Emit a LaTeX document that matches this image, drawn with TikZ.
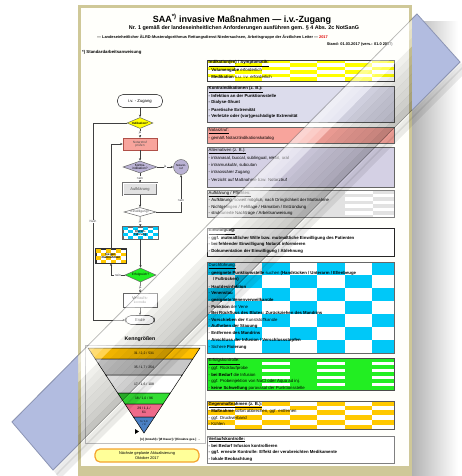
\documentclass[tikz,border=0pt]{standalone}
\usepackage{fontspec}
\setmainfont{Liberation Sans}
\usetikzlibrary{shapes.geometric,arrows.meta,calc}

\definecolor{pagekhaki}{HTML}{CFC898}
\definecolor{pagecream}{HTML}{FFFFFB}
\definecolor{bandblue}{HTML}{B2BCE0}
\definecolor{bandedge}{HTML}{8C95B5}
\definecolor{chkyellow}{HTML}{FFFF00}
\definecolor{chkcyan}{HTML}{00C8F8}
\definecolor{chkorange}{HTML}{FFC800}
\definecolor{okgreen}{HTML}{22EE22}
\definecolor{salmon}{HTML}{F8A49C}
\definecolor{salmonedge}{HTML}{B05048}
\definecolor{lilac}{HTML}{D4D0E4}
\definecolor{lilacdark}{HTML}{BAB2D4}
\definecolor{greyblue}{HTML}{DCDCEC}
\definecolor{lightgrey}{HTML}{E2E2E2}
\definecolor{tri1}{HTML}{FFC000}
\definecolor{tri2}{HTML}{C8C8C8}
\definecolor{tri4}{HTML}{33DD33}
\definecolor{tri5}{HTML}{EE6A8A}
\definecolor{tri6}{HTML}{4A80C4}
\definecolor{noteyellow}{HTML}{FFFF99}
\definecolor{noteorange}{HTML}{F4A42C}
\definecolor{yearred}{HTML}{E00000}

\newcommand\bodyfont{\fontsize{4.3}{5}\selectfont}
\newcommand\flowfont{\fontsize{3.2}{3.6}\selectfont}

% checkerboard of coloured cells clipped to a rectangle
\newcommand\checker[7]{%
  \begin{scope}
    \clip (#1,#2) rectangle (#3,#4);
    \foreach \ci in {0,...,7}{
      \foreach \cj in {0,...,12}{
        \pgfmathtruncatemacro\cpar{mod(\ci+\cj,2)}
        \ifnum\cpar=0 \fill[#7] ({#1+\ci*#5},{#2+\cj*#6}) rectangle +(#5,#6);\fi
      }}
  \end{scope}}

% framed information panel of the right-hand column
\newcommand\panel[7]{%
  \node[draw=#7, fill=#6, line width=0.7pt, inner sep=0pt, anchor=north west,
        minimum width={#4-#2}, minimum height={#5-#3}] (#1) at (#2,#3) {};}
\newcommand\reframe[2]{\draw[#2, line width=0.7pt] (#1.north west) rectangle (#1.south east);}

% one text line inside a panel
\newcounter{tl}
\newcommand\tline[2]{\stepcounter{tl}%
  \node[anchor=west, inner sep=0pt, font=\bodyfont] (tl-\arabic{tl}) at (208.5,#1) {#2};}

\tikzset{
  flowbox/.style={rectangle, draw=black!60, line width=0.5pt, inner sep=0pt,
                  minimum width=34, minimum height=12, align=center, font=\flowfont},
  flowdia/.style={diamond, draw=black!60, line width=0.5pt, inner sep=0pt},
  flowend/.style={rectangle, rounded corners=5.5pt, draw=black!70, line width=0.6pt,
                  fill=white, inner sep=0pt, font=\fontsize{4.2}{5}\selectfont},
  flowarrow/.style={-{Stealth[length=2.6pt,width=2.2pt]}, line width=0.5pt, black!75},
  flowlbl/.style={font=\flowfont, inner sep=0.4pt, fill=white},
  dtext/.style={font=\flowfont, align=center, inner sep=0pt},
  layer/.style={draw=black, line width=0.5pt},
  ltext/.style={font=\fontsize{3.4}{4}\selectfont, align=center, inner sep=0pt},
}

\begin{document}
\begin{tikzpicture}[x=1pt,y=-1pt]
\useasboundingbox (0,0) rectangle (461,476);
\fill[white] (0,0) rectangle (461,476);

% corners of the diagonal ribbon
\coordinate (rA) at (12,422);
\coordinate (rB) at (417,14);
\coordinate (rC) at (460,62);
\coordinate (rD) at (53,470);

% ---------- sheet with its shadow ----------
\shade[left color=black!30, right color=white] (412,22) rectangle (458,476);
\fill[pagekhaki] (78,5) rectangle (412,476);
\fill[pagecream] (81,8) rectangle (409,466);

% ---------- heading ----------
\node[font=\bfseries\fontsize{9}{10}\selectfont, inner sep=0pt] (title) at (242,19)
  {SAA\textsuperscript{*)} invasive Maßnahmen — i.v.-Zugang};
\node[font=\bfseries\fontsize{5.4}{6}\selectfont, inner sep=0pt] (sub1) at (244,28)
  {Nr. 1 gemäß der landeseinheitlichen Anforderungen ausführen gem. § 4 Abs. 2c NotSanG};
\node[font=\bfseries\fontsize{3.9}{4.5}\selectfont, inner sep=0pt, anchor=west] (sub2) at (97,37.5)
  {— Landeseinheitlicher ÄLRD-Musteralgorithmus Rettungsdienst Niedersachsen, Arbeitsgruppe der Ärztlichen Leiter — \textcolor{yearred}{2017}};
\node[font=\bfseries\fontsize{3.9}{4.5}\selectfont, inner sep=0pt, anchor=east] (stand) at (393,44)
  {Stand: 01.03.2017 (vers.: 01.0 2017)};
\node[font=\bfseries\fontsize{4.3}{5}\selectfont, inner sep=0pt, anchor=west] (sop) at (82,52)
  {*) Standardarbeitsanweisung};

% ---------- flow chart ----------
\node[flowend, minimum width=45, minimum height=13] (start) at (140,101) {i.v. - Zugang};
\node[flowdia, fill=chkyellow, minimum width=26, minimum height=11] (ind) at (140,123) {};
\node[dtext, font=\bfseries\fontsize{3}{3.5}\selectfont] (indT) at (ind) {Indikation?};
\node[flowbox, fill=salmon, draw=salmonedge, text=black!70] (nar) at (140,144) {Notarztruf\\prüfen};
\node[flowdia, fill=lilacdark, minimum width=34, minimum height=12] (ki) at (140,167) {};
\node[dtext] (kiT) at (ki) {Kontra-\\indikation?};
\node[circle, fill=lilacdark, draw=black!55, line width=0.5pt, minimum size=15, inner sep=0pt,
      align=center, font=\fontsize{2.8}{3.2}\selectfont] (nac) at (181,167) {Notarzt-\\ruf};
\node[flowbox, fill=lightgrey, double=white, double distance=0.6pt, draw=black!55, text=black!70] (auf) at (140,189)
  {\fontsize{4}{5}\selectfont Aufklärung};
\node[flowdia, fill=white, minimum width=32, minimum height=9] (ein) at (140,212) {};
\node[dtext, text=black!70] (einT) at (ein) {Einwilligung?};
\node[flowbox, fill=white, minimum width=35] (dur) at (140.5,233) {};
\checker{123}{227}{158}{239}{5}{3}{chkcyan}
\reframe{dur}{black!60}
\node[dtext, font=\bfseries\flowfont] (durT) at (dur) {Durch-\\führung};
\node[flowbox, fill=white, minimum width=30, minimum height=14, draw=black!80] (gm) at (111,256) {};
\checker{96}{249}{126}{263}{5}{3.5}{chkorange}
\reframe{gm}{black!80}
\node[dtext, font=\bfseries\flowfont] (gmT) at (gm) {Gegen-\\maßnahmen};
\node[flowdia, fill=okgreen, minimum width=31, minimum height=14] (erf) at (140.5,275) {};
\node[dtext] (erfT) at (erf) {Erfolgreich?};
\node[flowbox, fill=white, minimum height=14, text=black!65] (vk) at (140,300) {\fontsize{4}{4.8}\selectfont Verlaufs-\\kontrolle};
\node[flowend, minimum width=29, minimum height=9, text=black!65] (ende) at (140,320) {Ende};

\coordinate (loopTop) at (93,123);
\coordinate (loopBot) at (93,320);
\coordinate (kiRight) at (181,212);
\coordinate (gmFoot) at (111,275);
\coordinate (gmHead) at (111,144);

\draw[flowarrow] (start) -- (ind);
\draw[flowarrow] (ind) -- node[flowlbl, pos=0.45] {ja} (nar);
\draw[flowarrow] (ind.west) -- (loopTop) -- node[flowlbl] {Nein} (loopBot) -- (ende.west);
\draw[flowarrow] (nar) -- (ki);
\draw[flowarrow] (ki.east) -- node[flowlbl] {ja} (nac.west);
\draw[flowarrow] (ki) -- node[flowlbl] {nein} (auf);
\draw[flowarrow] (auf) -- (ein);
\draw[flowarrow] (ein.east) -- (kiRight) -- node[flowlbl, pos=0.3] {nein} (nac.south);
\draw[flowarrow] (ein) -- node[flowlbl] {ja} (dur);
\draw[flowarrow] (dur) -- (erf);
\draw[flowarrow] (erf.west) -- node[flowlbl, pos=0.5] {nein} (gmFoot) -- (gm.south);
\draw[flowarrow] (gm.north) -- (gmHead) -- (nar.west);
\draw[flowarrow] (erf) -- node[flowlbl] {ja} (vk);
\draw[flowarrow] (vk) -- (ende);

% ---------- key figures pyramid ----------
\node[font=\bfseries\fontsize{5.2}{6}\selectfont, inner sep=0pt] (kenn) at (140,339) {Kenngrößen};
\draw[black!25, line width=0.5pt] (85,345) rectangle (205,443);
\filldraw[layer, fill=tri1] (88,348) -- (200,348) -- (192.75,359) -- (95.25,359) -- cycle;
\filldraw[layer, fill=tri2] (95.25,359) -- (192.75,359) -- (182.2,375) -- (105.8,375) -- cycle;
\filldraw[layer, fill=white] (105.8,375) -- (182.2,375) -- (170.35,393) -- (117.65,393) -- cycle;
\filldraw[layer, fill=tri4] (117.65,393) -- (170.35,393) -- (163.1,404) -- (124.9,404) -- cycle;
\filldraw[layer, fill=tri5] (124.9,404) -- (163.1,404) -- (154.54,417) -- (133.46,417) -- cycle;
\filldraw[layer, fill=tri6] (133.46,417) -- (154.54,417) -- (144,433) -- cycle;
\node[ltext] (k1) at (144,353.5) {31 / 2,2 / 531};
\node[ltext] (k2) at (144,367) {35 / 1,7 / 254};
\node[ltext] (k3) at (144,384) {17 / 1,6 / 108};
\node[ltext] (k4) at (144,398.5) {18 / 1,0 / 96};
\node[ltext] (k5) at (144,410.5) {29 / 1,1 /\\61};
\node[ltext, font=\fontsize{2.6}{3}\selectfont] (k6) at (144,423) {5 / 1,0\\/ 3};
\fill[black] (135,429) -- (139,431.5) -- (135,434) -- cycle;
\node[font=\bfseries\fontsize{3}{3.5}\selectfont, inner sep=0pt, anchor=west] (kleg) at (140,439.5)
  {[n] (Anzahl) / [Ø Dauer] / [Einsätze ges.] →};

\node[rectangle, rounded corners=5pt, fill=noteyellow, draw=noteorange, line width=1.2pt,
      minimum width=104, minimum height=13, inner sep=0pt, align=center,
      font=\fontsize{3.9}{4.6}\selectfont] (next) at (147,455.5)
  {Nächste geplante Aktualisierung\\Oktober 2017};

% ---------- right-hand column ----------
\panel{pA}{207}{60}{394}{81}{white}{black!75}
\checker{207}{60}{394}{81}{27.5}{3.5}{chkyellow}
\reframe{pA}{black!75}
\tline{63.5}{\textbf{\underline{Indikation(en) / Symptomatik:}}}
\tline{70.5}{- \textbf{Volumengabe} erforderlich}
\tline{77}{- \textbf{Medikation} s.u. i.v. erforderlich}

\panel{pB}{207}{86}{394}{122}{greyblue}{black!65}
\tline{89.5}{\textbf{\underline{Kontraindikationen (z. B.):}}}
\tline{96}{\textbf{- Infektion an der Punktionsstelle}}
\tline{102.5}{\textbf{- Dialyse-Shunt}}
\tline{109.5}{\textbf{- Paretische Extremität}}
\tline{116.5}{\textbf{- Verletzte oder (vor)geschädigte Extremität}}

\panel{pC}{207}{127}{394}{143}{salmon}{black!60}
\tline{131}{\underline{Notarztruf:}}
\tline{138}{- gemäß Notarztindikationskatalog}

\panel{pD}{207}{147}{394}{187}{lilac}{black!60}
\tline{151}{\underline{Alternativen (z. B.):}}
\tline{158}{- intranasal, buccal, sublingual, rektal, oral}
\tline{165.5}{- intramuskulär, subcutan}
\tline{172.5}{- intraossärer Zugang}
\tline{179.5}{- Verzicht auf Maßnahme bzw. Notarztruf}

\panel{pE}{207}{190}{394}{217}{lightgrey}{black!50}
\checker{345}{190}{394}{217}{27.5}{3.5}{white}
\reframe{pE}{black!50}
\tline{194}{\underline{Aufklärung / Pflichten:}}
\tline{200.5}{- Aufklärung, soweit möglich, nach Dringlichkeit der Maßnahme}
\tline{207}{- Nichtgelingen / Fehllage / Hämatom / Entzündung}
\tline{213.5}{- strukturierte Nachfrage / Arbeitsanweisung}

\panel{pF}{207}{228}{394}{256}{white}{black!85}
\tline{231.5}{\textbf{\underline{Einwilligung:}}}
\tline{238}{\textbf{- ggf. mutmaßlicher Wille bzw. mutmaßliche Einwilligung des Patienten}}
\tline{244.5}{\textbf{- bei fehlender Einwilligung Notarzt informieren}}
\tline{251}{\textbf{- Dokumentation der Einwilligung / Ablehnung}}

\panel{pG}{207}{262}{394}{353}{white}{black!60}
\checker{207}{262}{394}{353}{27.5}{13}{chkcyan}
\reframe{pG}{black!60}
\tline{266}{\underline{Durchführung:}}
\tline{273}{- \textbf{geeignete Punktionsstelle} suchen \textbf{(Handrücken / Unterarm / Ellenbeuge}}
\tline{279.5}{\quad\textbf{/ Fußrücken)}}
\tline{286.5}{- \textbf{Hautdesinfektion}}
\tline{293.5}{- \textbf{Venenstau}}
\tline{300}{- \textbf{geeignete Venenverweilkanüle}}
\tline{306.5}{- \textbf{Punktion} der Vene}
\tline{313}{- \textbf{Bei Rückfluss des Blutes: Zurückziehen des Mandrins}}
\tline{319.5}{- \textbf{Vorschieben der} Kunststoffkanüle}
\tline{326.5}{- \textbf{Aufheben der Stauung}}
\tline{333}{- \textbf{Entfernen des Mandrins}}
\tline{340}{- \textbf{Anschluss der Infusion / Verschlussstopfen}}
\tline{347}{- Sichere \textbf{Fixierung}}

\panel{pH}{207}{358}{394}{390}{okgreen}{black!70}
\foreach \bx in {262,317,372}{
  \foreach \by in {362,369,376,383}{
    \fill[white] (\bx,\by) rectangle ++(27.5,3);}}
\reframe{pH}{black!70}
\tline{361.5}{\underline{Erfolgskontrolle:}}
\tline{368.5}{- ggf. Rücklaufprobe}
\tline{375}{- \textbf{bei Bedarf} die Infusion}
\tline{381.5}{- ggf. Probeinjektion von NaCl oder Aqua ad inj.}
\tline{388}{- \textbf{keine Schwellung} paravasal der Punktionsstelle}

\panel{pI}{207}{401}{394}{429}{white}{black!65}
\checker{207}{401}{394}{429}{27.5}{4.7}{chkorange}
\reframe{pI}{black!65}
\tline{405}{\textbf{\underline{Gegenmaßnahmen (z. B.):}}}
\tline{411.5}{- \textbf{Maßnahme} sofort abbrechen, ggf. entfernen}
\tline{418}{- ggf. Druckverband}
\tline{424}{- Kühlen}

\panel{pJ}{207}{436}{394}{463}{white}{black!50}
\tline{439.5}{\textbf{\underline{Verlaufskontrolle:}}}
\tline{446}{\textbf{- bei Bedarf Infusion kontrollieren}}
\tline{452.5}{\textbf{- ggf. erneute Kontrolle: Effekt der verabreichten Medikamente}}
\tline{459.5}{\textbf{- lokale Beobachtung}}

% ---------- diagonal ribbon over the sheet ----------
% soft shadow under the lower edge
\fill[black, opacity=0.08] ($(rD)+(3,4)$) -- ($(rC)+(3,4)$) -- ($(rC)+(7,9)$) -- ($(rD)+(7,9)$) -- cycle;
\fill[black, opacity=0.08] ($(rD)+(1,1)$) -- ($(rC)+(1,1)$) -- ($(rC)+(4,5)$) -- ($(rD)+(4,5)$) -- cycle;
% glossy, nearly clear film where the ribbon lies on the sheet
\foreach \k/\col/\op in {0/white/0.55, 1/white/0.45, 2/white/0.32, 3/black/0.06, 4/black/0.09,
                         5/black/0.12, 6/black/0.14, 7/black/0.16, 8/black/0.19, 9/black/0.23}{
  \pgfmathsetmacro\ta{\k/10}
  \pgfmathsetmacro\tb{(\k+1)/10}
  \fill[\col, fill opacity=\op]
    ($(rA)!\ta!(rD)$) -- ($(rB)!\ta!(rC)$) -- ($(rB)!\tb!(rC)$) -- ($(rA)!\tb!(rD)$) -- cycle;
}
\draw[black, opacity=0.28, line width=0.8pt] (rA) -- (rB);
\draw[black, opacity=0.32, line width=0.8pt] (rD) -- (rC);
% solid where the ribbon leaves the sheet
\begin{scope}
  \clip (0,0) -- (461,0) -- (461,476) -- (0,476) -- cycle
        (78,5) -- (78,476) -- (412,476) -- (412,5) -- cycle;
  \fill[bandblue] (rA) -- (rB) -- (rC) -- (rD) -- cycle;
  \draw[bandedge, line width=0.8pt, line join=round] (rA) -- (rB) -- (rC) -- (rD) -- cycle;
\end{scope}
\end{tikzpicture}
\end{document}
